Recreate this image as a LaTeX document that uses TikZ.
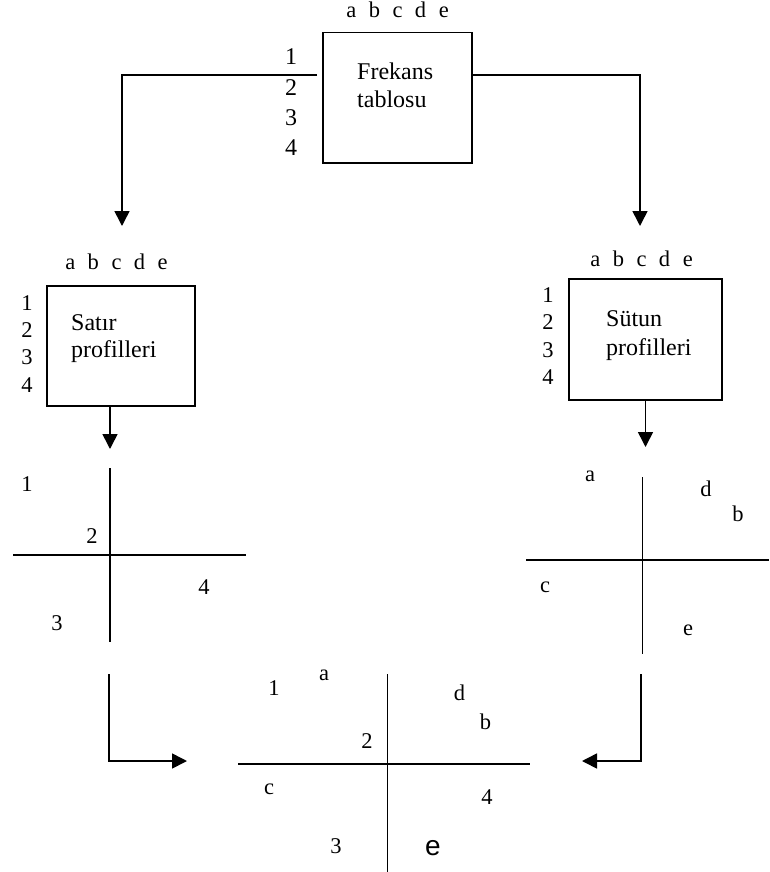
\documentclass[tikz,border=0pt]{standalone}
\usepackage{fontspec}
\setmainfont{Liberation Serif}
\newfontfamily\arialf{Liberation Sans}
\usetikzlibrary{arrows.meta}
\newcommand{\abcde}{a\hspace{12.5pt}b\hspace{12.5pt}c\hspace{12.5pt}d\hspace{12.5pt}e}
\begin{document}
\begin{tikzpicture}[x=1pt,y=-1pt,
  lbl/.style={inner sep=0pt, font=\fontsize{22.5}{26}\selectfont},
  bignum/.style={inner sep=0pt, font=\fontsize{24}{28}\selectfont},
  boxtext/.style={inner sep=0pt, anchor=base west, font=\fontsize{24}{28}\selectfont},
  profbox/.style={draw, line width=1.5pt, anchor=north west, inner sep=0pt},
  axis/.style={line width=1.4pt},
  conn/.style={line width=1.6pt, -{Triangle[width=15pt,length=15pt]}},
]
\useasboundingbox (0,0) rectangle (769,872);

% ---- top box: Frekans tablosu
\node[profbox, minimum width=149pt, minimum height=130pt] (top) at (322,32) {};
\node[lbl] (topabc) at (397.5,10) {\abcde};
\foreach \n/\y in {1/57,2/88,3/118,4/148} \node[bignum] (topn\n) at (291,\y) {\n};
\node[boxtext] (fre) at (357,80) {Frekans};
\node[boxtext] (tab) at (357,108) {tablosu};

% ---- Satir box
\node[profbox, minimum width=148pt, minimum height=120pt] (sat) at (46,285) {};
\node[lbl] (satabc) at (116.5,261.5) {\abcde};
\foreach \n/\y in {1/303,2/330,3/357,4/385} \node[lbl] (satn\n) at (27,\y) {\n};
\node[boxtext] (satt) at (71,330.5) {Satır};
\node[boxtext] (satp) at (71,357.5) {profilleri};

% ---- Sutun box
\node[profbox, minimum width=153pt, minimum height=121pt] (sut) at (568,278) {};
\node[lbl] (sutabc) at (641.5,258.5) {\abcde};
\foreach \n/\y in {1/295,2/322,3/350,4/377} \node[lbl] (sutn\n) at (548,\y) {\n};
\node[boxtext] (sutt) at (606,326) {Sütun};
\node[boxtext] (sutp) at (606,355) {profilleri};

% ---- connectors from top box
\coordinate (tl) at (317,75);
\coordinate (tlc) at (122,75);
\coordinate (tlend) at (122,226);
\coordinate (trc) at (640,75);
\coordinate (trend) at (640,226);
\draw[conn] (tl) -- (tlc) -- (tlend);
\draw[conn] (top.east |- trc) -- (trc) -- (trend);

% ---- arrows from profile boxes
\coordinate (satend) at (110,449);
\coordinate (sutend) at (645.5,447);
\draw[conn] (sat.south -| satend) -- (satend);
\draw[conn] (sut.south -| sutend) -- (sutend);

% ---- left cross (row profiles)
\draw[axis] (110,468) -- (110,642);
\draw[axis] (13,555) -- (246,555);
\node[lbl] (l1) at (27,484) {1};
\node[lbl] (l2) at (92,536) {2};
\node[lbl] (l4) at (204,587) {4};
\node[lbl] (l3) at (57,623) {3};

% ---- right cross (column profiles)
\draw[axis] (642.5,477) -- (642.5,654);
\draw[axis] (526,560) -- (769,560);
\node[lbl] (ra) at (590,476) {a};
\node[lbl] (rd) at (706,489) {d};
\node[lbl] (rb) at (738,514) {b};
\node[lbl] (rc) at (545,587) {c};
\node[lbl] (re) at (688,630) {e};

% ---- elbow arrows to the joint map
\coordinate (ls) at (109,674);
\coordinate (lc) at (109,761);
\coordinate (le) at (187,761);
\coordinate (rs) at (641,674);
\coordinate (rc2) at (641,761);
\coordinate (re2) at (582,761);
\draw[conn] (ls) -- (lc) -- (le);
\draw[conn] (rs) -- (rc2) -- (re2);

% ---- bottom cross (joint map)
\draw[axis] (387.5,674) -- (387.5,872);
\draw[axis] (238,764) -- (530,764);
\node[lbl] (b1) at (274,688) {1};
\node[lbl] (ba) at (324,675) {a};
\node[lbl] (bd) at (459.5,693) {d};
\node[lbl] (bb) at (485.5,722) {b};
\node[lbl] (b2) at (367,741) {2};
\node[lbl] (bc) at (269,789) {c};
\node[lbl] (b4) at (487,797) {4};
\node[lbl] (b3) at (336,846) {3};
\node[inner sep=0pt, font=\arialf\fontsize{28}{32}\selectfont] (be) at (433,848) {e};
\end{tikzpicture}
\end{document}
